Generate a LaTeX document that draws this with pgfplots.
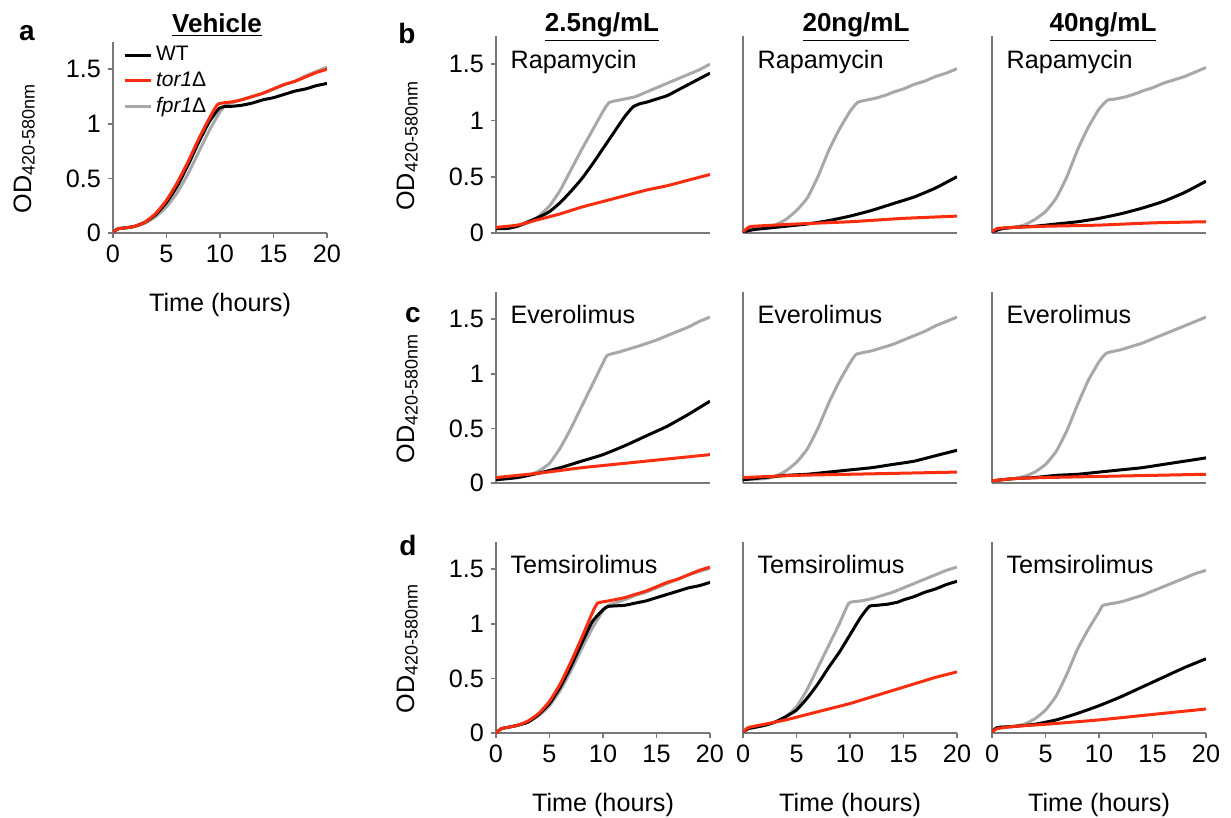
\documentclass[border=0pt]{standalone}
\usepackage{pgfplots}
\pgfplotsset{compat=1.18}
\usepackage{fontspec}
\setmainfont{Liberation Sans}

\definecolor{wtc}{RGB}{0,0,0}
\definecolor{torc}{RGB}{250,45,15}
\definecolor{fprc}{RGB}{168,168,168}
\definecolor{axgray}{RGB}{120,120,120}

\newcommand{\lbl}{\fontsize{12.6}{15}\selectfont}
\newcommand{\od}{OD{\fontsize{9}{11}\selectfont\raisebox{-0.35ex}{420-580nm}}}

\pgfplotsset{
  panel/.style={
    scale only axis, width=107pt, height=95.5pt,
    xmin=0, xmax=20, ymin=0, ymax=1.75,
    axis lines=left,
    axis line style={draw=axgray, line width=0.8pt, -},
    tick style={draw=axgray, line width=0.8pt},
    tick align=outside, major tick length=2.5pt,
    xtick={0,5,10,15,20}, ytick={0,0.5,1,1.5},
    ticklabel style={font=\lbl},
    /pgf/number format/assume math mode=true,
    label style={font=\lbl},
    ylabel style={at={(axis description cs:-0.415,0.44)}, anchor=center, rotate=0},
    xlabel style={at={(axis description cs:0.5,-0.377)}, anchor=center},
  },
  wt/.style={draw=wtc, line width=1.5pt, no markers, smooth, tension=0.3},
  tor/.style={draw=torc, line width=1.5pt, no markers, smooth, tension=0.3},
  fpr/.style={draw=fprc, line width=1.5pt, no markers, smooth, tension=0.3},
  noxt/.style={xtick=\empty},
  noyt/.style={ytick=\empty},
}

\newcommand{\tag}[1]{\node[anchor=west, font=\lbl] at (axis description cs:0.035,#1)}

\begin{document}
\begin{tikzpicture}
\path[use as bounding box] (0,0) rectangle (615.5pt,-409pt);

% titles and panel letters
\node[font=\bfseries\fontsize{13}{15}\selectfont] at (108.5pt,-12.5pt) {\underline{Vehicle}};
\node[font=\bfseries\fontsize{13}{15}\selectfont] at (301pt,-13.5pt) {\underline{2.5ng/mL}};
\node[font=\bfseries\fontsize{13}{15}\selectfont] at (428pt,-13.5pt) {\underline{20ng/mL}};
\node[font=\bfseries\fontsize{13}{15}\selectfont] at (551.5pt,-13.5pt) {\underline{40ng/mL}};
\node[font=\bfseries\fontsize{14}{16}\selectfont] at (13.5pt,-16.5pt) {a};
\node[font=\bfseries\fontsize{14}{16}\selectfont] at (203.5pt,-16.5pt) {b};
\node[font=\bfseries\fontsize{14}{16}\selectfont] at (206.5pt,-157.5pt) {c};
\node[font=\bfseries\fontsize{14}{16}\selectfont] at (204pt,-272.5pt) {d};

% ---- a: vehicle
\begin{axis}[panel, at={(56.5pt,-116.5pt)}, anchor=south west,
  xlabel={Time (hours)}, ylabel={\od},
  legend style={at={(axis description cs:0.045,1.0)}, anchor=north west,
    draw=none, fill=none, font=\fontsize{10.5}{12.5}\selectfont, inner sep=0pt},
  legend cell align=left,
  legend image code/.code={\draw[#1] (0pt,0pt) -- (13pt,0pt);}]
\addlegendimage{wt}\addlegendentry{WT}
\addlegendimage{tor}\addlegendentry{\textit{tor1}Δ}
\addlegendimage{fpr}\addlegendentry{\textit{fpr1}Δ}
\addplot[fpr, forget plot] coordinates {(0,0.01)(0.5,0.04)(1,0.045)(2,0.06)(3,0.09)(4,0.15)(5,0.24)(6,0.37)(7,0.54)(8,0.74)(9,0.94)(10,1.11)(10.5,1.17)(11,1.19)(12,1.22)(13,1.25)(14,1.28)(15,1.32)(16,1.36)(17,1.39)(18,1.44)(19,1.48)(20,1.52)};
\addplot[wt, forget plot] coordinates {(0,0.01)(0.5,0.04)(1,0.045)(2,0.06)(3,0.1)(4,0.17)(5,0.28)(6,0.43)(7,0.62)(8,0.83)(9,1.02)(9.9,1.14)(10.5,1.16)(11,1.16)(12,1.17)(13,1.19)(14,1.22)(15,1.24)(16,1.27)(17,1.3)(18,1.32)(19,1.35)(20,1.37)};
\addplot[tor, forget plot] coordinates {(0,0.01)(0.5,0.04)(1,0.045)(2,0.06)(3,0.1)(4,0.18)(5,0.3)(6,0.46)(7,0.65)(8,0.86)(9,1.05)(9.8,1.18)(11,1.2)(12,1.22)(13,1.25)(14,1.28)(15,1.32)(16,1.36)(17,1.39)(18,1.43)(19,1.47)(20,1.5)};
\end{axis}

% ---- b: rapamycin
\begin{axis}[panel, noxt, height=98.5pt, at={(248pt,-116.5pt)}, anchor=south west,
  ylabel={\od}]
\addplot[fpr] coordinates {(0,0.05)(1,0.04)(2,0.06)(3,0.09)(4,0.15)(5,0.24)(6,0.38)(7,0.56)(8,0.74)(9,0.91)(10,1.08)(10.6,1.16)(12,1.19)(13,1.21)(14,1.25)(15,1.29)(16,1.33)(17,1.37)(18,1.41)(19,1.45)(20,1.5)};
\addplot[wt] coordinates {(0,0.04)(1,0.04)(2,0.06)(3,0.1)(4,0.14)(5,0.19)(6,0.27)(7,0.37)(8,0.48)(9,0.61)(10,0.75)(11,0.89)(12,1.03)(12.8,1.12)(13.5,1.15)(14,1.16)(15,1.19)(16,1.22)(17,1.27)(18,1.32)(19,1.37)(20,1.42)};
\addplot[tor] coordinates {(0,0.05)(2,0.07)(4,0.12)(6,0.17)(8,0.23)(10,0.28)(12,0.33)(14,0.38)(16,0.42)(18,0.47)(20,0.52)};
\tag{0.87}{Rapamycin};
\end{axis}

\begin{axis}[panel, noxt, noyt, height=98.5pt, at={(371.5pt,-116.5pt)}, anchor=south west]
\addplot[fpr] coordinates {(0,0.01)(0.5,0.04)(1,0.04)(2,0.05)(3,0.07)(4,0.12)(5,0.2)(6,0.31)(7,0.5)(8,0.73)(9,0.92)(10,1.08)(10.7,1.16)(11.5,1.18)(12.5,1.2)(13.5,1.23)(14,1.25)(15,1.28)(16,1.32)(17,1.35)(18,1.39)(19,1.42)(20,1.46)};
\addplot[wt] coordinates {(0,0.01)(1,0.03)(2,0.04)(4,0.06)(6,0.08)(8,0.11)(10,0.15)(12,0.2)(14,0.26)(16,0.32)(18,0.4)(20,0.5)};
\addplot[tor] coordinates {(0,0.01)(0.5,0.05)(1,0.06)(5,0.08)(10,0.1)(15,0.13)(20,0.15)};
\tag{0.87}{Rapamycin};
\end{axis}

\begin{axis}[panel, noxt, noyt, height=98.5pt, at={(496pt,-116.5pt)}, anchor=south west]
\addplot[fpr] coordinates {(0,0.01)(0.5,0.04)(1,0.04)(2,0.05)(3,0.07)(4,0.12)(5,0.19)(6,0.31)(7,0.5)(8,0.74)(9,0.94)(10,1.1)(10.8,1.18)(11.5,1.19)(12.5,1.21)(13.5,1.24)(14,1.26)(15,1.29)(16,1.33)(17,1.36)(18,1.39)(19,1.43)(20,1.47)};
\addplot[wt] coordinates {(0,0.01)(1,0.04)(2,0.05)(4,0.06)(6,0.08)(8,0.1)(10,0.13)(12,0.17)(14,0.22)(16,0.28)(18,0.36)(20,0.46)};
\addplot[tor] coordinates {(0,0.01)(0.5,0.04)(2,0.05)(5,0.06)(10,0.07)(15,0.09)(20,0.1)};
\tag{0.87}{Rapamycin};
\end{axis}

% ---- c: everolimus
\begin{axis}[panel, noxt, at={(248pt,-241.5pt)}, anchor=south west,
  ylabel={\od}]
\addplot[fpr] coordinates {(0,0.03)(1,0.04)(2,0.05)(3,0.07)(4,0.11)(5,0.18)(6,0.32)(7,0.5)(8,0.7)(9,0.9)(10,1.1)(10.4,1.17)(11.5,1.2)(12.5,1.23)(13.5,1.26)(15,1.31)(16,1.35)(17,1.39)(18,1.43)(19,1.48)(20,1.52)};
\addplot[wt] coordinates {(0,0.03)(2,0.05)(4,0.09)(6,0.14)(8,0.2)(10,0.26)(12,0.34)(14,0.43)(16,0.52)(18,0.63)(20,0.75)};
\addplot[tor] coordinates {(0,0.05)(4,0.09)(8,0.14)(12,0.18)(16,0.22)(20,0.26)};
\tag{0.88}{Everolimus};
\end{axis}

\begin{axis}[panel, noxt, noyt, at={(371.5pt,-241.5pt)}, anchor=south west]
\addplot[fpr] coordinates {(0,0.03)(2,0.04)(3,0.06)(4,0.11)(5,0.19)(6,0.31)(7,0.5)(8,0.73)(9,0.93)(10,1.1)(10.6,1.18)(12,1.21)(13,1.24)(14,1.27)(15,1.31)(16,1.35)(17,1.39)(18,1.44)(19,1.48)(20,1.52)};
\addplot[wt] coordinates {(0,0.03)(2,0.05)(4,0.07)(6,0.08)(8,0.1)(10,0.12)(12,0.14)(14,0.17)(16,0.2)(18,0.25)(20,0.3)};
\addplot[tor] coordinates {(0,0.05)(5,0.07)(10,0.08)(15,0.09)(20,0.1)};
\tag{0.88}{Everolimus};
\end{axis}

\begin{axis}[panel, noxt, noyt, at={(496pt,-241.5pt)}, anchor=south west]
\addplot[fpr] coordinates {(0,0.02)(2,0.04)(3,0.06)(4,0.1)(5,0.17)(6,0.29)(7,0.48)(8,0.72)(9,0.94)(10,1.11)(10.7,1.19)(12,1.22)(13,1.25)(14,1.28)(15,1.32)(16,1.36)(17,1.4)(18,1.44)(19,1.48)(20,1.52)};
\addplot[wt] coordinates {(0,0.02)(2,0.04)(4,0.05)(6,0.07)(8,0.08)(10,0.1)(12,0.12)(14,0.14)(16,0.17)(18,0.2)(20,0.23)};
\addplot[tor] coordinates {(0,0.02)(2,0.04)(5,0.05)(10,0.06)(15,0.07)(20,0.08)};
\tag{0.88}{Everolimus};
\end{axis}

% ---- d: temsirolimus
\begin{axis}[panel, at={(248pt,-366.5pt)}, anchor=south west,
  xlabel={Time (hours)}, ylabel={\od}]
\addplot[fpr] coordinates {(0,0.0)(0.5,0.04)(1,0.05)(2,0.07)(3,0.1)(4,0.16)(5,0.25)(6,0.39)(7,0.57)(8,0.77)(9,0.96)(10,1.12)(10.5,1.17)(12,1.22)(13,1.26)(14,1.29)(15,1.33)(16,1.37)(17,1.41)(18,1.45)(19,1.48)(20,1.51)};
\addplot[wt] coordinates {(0,0.0)(0.5,0.04)(1,0.05)(2,0.07)(3,0.1)(4,0.17)(5,0.27)(6,0.42)(7,0.61)(8,0.82)(9,1.02)(10,1.13)(10.5,1.16)(12,1.17)(13,1.19)(14,1.21)(15,1.24)(16,1.27)(17,1.3)(18,1.33)(19,1.35)(20,1.38)};
\addplot[tor] coordinates {(0,0.0)(0.5,0.04)(1,0.05)(2,0.07)(3,0.11)(4,0.18)(5,0.29)(6,0.45)(7,0.65)(8,0.87)(9,1.1)(9.5,1.19)(10.5,1.21)(12,1.24)(13,1.27)(14,1.3)(15,1.34)(16,1.38)(17,1.41)(18,1.45)(19,1.49)(20,1.52)};
\tag{0.88}{Temsirolimus};
\end{axis}

\begin{axis}[panel, noyt, at={(371.5pt,-366.5pt)}, anchor=south west,
  xlabel={Time (hours)}]
\addplot[fpr] coordinates {(0,0.01)(0.5,0.04)(1,0.05)(2,0.07)(3,0.1)(4,0.15)(5,0.24)(6,0.4)(7,0.6)(8,0.8)(9,1.0)(9.9,1.19)(11,1.21)(12,1.23)(13,1.26)(14,1.29)(15,1.33)(16,1.37)(17,1.41)(18,1.45)(19,1.49)(20,1.52)};
\addplot[wt] coordinates {(0,0.01)(0.5,0.04)(1,0.05)(2,0.07)(3,0.1)(4,0.15)(5,0.21)(6,0.32)(7,0.45)(8,0.6)(9,0.74)(10,0.9)(11,1.06)(11.8,1.16)(12.5,1.17)(13.5,1.18)(14.5,1.2)(15,1.22)(16,1.25)(17,1.29)(18,1.32)(19,1.36)(20,1.39)};
\addplot[tor] coordinates {(0,0.01)(0.5,0.05)(2,0.08)(4,0.12)(6,0.17)(8,0.22)(10,0.27)(12,0.33)(14,0.39)(16,0.45)(18,0.51)(20,0.56)};
\tag{0.88}{Temsirolimus};
\end{axis}

\begin{axis}[panel, noyt, at={(496pt,-366.5pt)}, anchor=south west,
  xlabel={Time (hours)}]
\addplot[fpr] coordinates {(0,0.01)(0.5,0.05)(2,0.06)(3,0.08)(4,0.13)(5,0.21)(6,0.34)(7,0.54)(8,0.77)(9,0.95)(10,1.11)(10.4,1.17)(12,1.2)(13,1.23)(14,1.26)(15,1.3)(16,1.34)(17,1.38)(18,1.42)(19,1.46)(20,1.49)};
\addplot[wt] coordinates {(0,0.01)(0.5,0.05)(2,0.06)(4,0.08)(6,0.12)(8,0.18)(10,0.25)(12,0.33)(14,0.42)(16,0.51)(18,0.6)(20,0.68)};
\addplot[tor] coordinates {(0,0.01)(0.5,0.04)(2,0.06)(5,0.08)(10,0.12)(15,0.17)(20,0.22)};
\tag{0.88}{Temsirolimus};
\end{axis}
\end{tikzpicture}
\end{document}
